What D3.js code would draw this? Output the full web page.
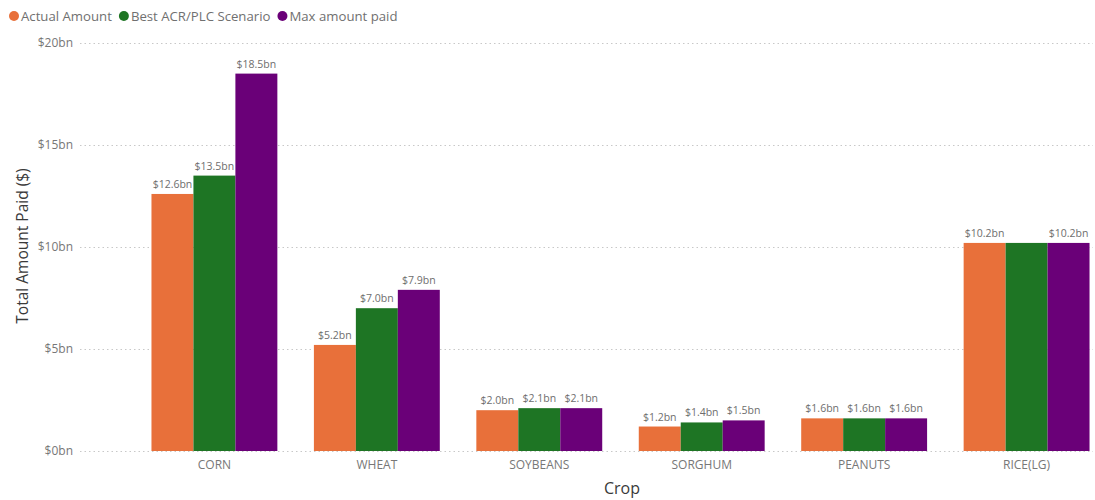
<!DOCTYPE html>
<html>
<head>
<meta charset="utf-8">
<script src="https://cdn.jsdelivr.net/npm/d3@7/dist/d3.min.js"></script>
<style>
  html, body { margin: 0; padding: 0; background: #ffffff; }
  svg { display: block; font-family: "Open Sans", "Noto Sans", sans-serif; }
</style>
</head>
<body>
<svg id="chart" width="1095" height="500"></svg>
<script>
// Crop categories and the three payment series (billions of dollars)
const crops = ["CORN", "WHEAT", "SOYBEANS", "SORGHUM", "PEANUTS", "RICE(LG)"];
const seriesNames = ["Actual Amount", "Best ACR/PLC Scenario", "Max amount paid"];
const actualAmount = [12.6, 5.2, 2.0, 1.2, 1.6, 10.2];
const bestScenario = [13.5, 7.0, 2.1, 1.4, 1.6, 10.2];
const maxPaid      = [18.5, 7.9, 2.1, 1.5, 1.6, 10.2];
const yTicks = [0, 5, 10, 15, 20];
const colors = ["#E8703A", "#1E7524", "#6A0078"];

const seriesValues = [actualAmount, bestScenario, maxPaid];
const rows = crops.map((c, i) => ({
  crop: c,
  values: seriesNames.map((s, k) => ({ series: s, k: k, value: seriesValues[k][i] }))
}));

const svg = d3.select("#chart");
const plotLeft = 80, plotRight = 1093, plotTop = 43, plotBottom = 451;

const x0 = d3.scaleBand()
  .domain(crops)
  .range([80, 1161])
  .paddingInner(0.225)
  .paddingOuter(0.44);

const x1 = d3.scaleBand()
  .domain(seriesNames)
  .range([0, x0.bandwidth()])
  .padding(0);

const y = d3.scaleLinear()
  .domain([0, 20])
  .range([plotBottom, plotTop]);

const fmt = v => "$" + d3.format(".1f")(v) + "bn";

// Dotted horizontal gridlines
svg.append("g")
  .selectAll("line")
  .data(yTicks)
  .join("line")
  .attr("x1", plotLeft)
  .attr("x2", plotRight)
  .attr("y1", d => y(d) + 0.5)
  .attr("y2", d => y(d) + 0.5)
  .attr("stroke", "#c8c8c8")
  .attr("stroke-width", 1)
  .attr("stroke-dasharray", "1.5,3");

// Y axis tick labels
const yAxis = d3.axisLeft(y)
  .tickValues(yTicks)
  .tickFormat(d => "$" + d + "bn")
  .tickSize(0)
  .tickPadding(0);
const yg = svg.append("g").attr("transform", "translate(73,0)").call(yAxis);
yg.select(".domain").remove();
yg.selectAll("text")
  .attr("fill", "#777777")
  .style("font-size", "12px")
  .style("font-family", "'Open Sans', sans-serif");

// X axis category labels
const xAxis = d3.axisBottom(x0).tickSize(0).tickPadding(0);
const xg = svg.append("g").attr("transform", "translate(0," + 460 + ")").call(xAxis);
xg.select(".domain").remove();
xg.selectAll("text")
  .attr("fill", "#777777")
  .style("font-size", "12px")
  .style("font-family", "'Open Sans', sans-serif");

// Grouped bars
const groups = svg.append("g")
  .selectAll("g")
  .data(rows)
  .join("g")
  .attr("transform", d => "translate(" + x0(d.crop) + ",0)");

groups.selectAll("rect")
  .data(d => d.values)
  .join("rect")
  .attr("x", d => x1(d.series))
  .attr("y", d => y(d.value))
  .attr("width", x1.bandwidth())
  .attr("height", d => y(0) - y(d.value))
  .attr("fill", d => colors[d.k]);

// Value labels above bars; a label that would collide with the
// previously shown label in its group is hidden
groups.each(function () {
  const g = d3.select(this);
  const labels = g.selectAll("text.val")
    .data(d => d.values)
    .join("text")
    .attr("class", "val")
    .attr("x", d => x1(d.series) + x1.bandwidth() / 2)
    .attr("y", d => y(d.value) - 6)
    .attr("text-anchor", "middle")
    .attr("fill", "#6e6e6e")
    .style("font-size", "10.5px")
    .style("font-family", "'Open Sans', sans-serif")
    .text(d => fmt(d.value));
  let prev = null;
  labels.each(function () {
    const b = this.getBBox();
    if (prev && b.x < prev.x + prev.width + 3 &&
        b.y < prev.y + prev.height && b.y + b.height > prev.y) {
      d3.select(this).remove();
    } else {
      prev = b;
    }
  });
});

// Axis titles
svg.append("text")
  .attr("transform", "translate(28," + 246 + ") rotate(-90)")
  .attr("text-anchor", "middle")
  .attr("fill", "#3a3a3a")
  .style("font-size", "15.5px")
  .style("font-family", "'Open Sans', sans-serif")
  .text("Total Amount Paid ($)");

svg.append("text")
  .attr("x", 622)
  .attr("y", 494)
  .attr("text-anchor", "middle")
  .attr("fill", "#3a3a3a")
  .style("font-size", "16px")
  .style("font-family", "'Open Sans', sans-serif")
  .text("Crop");

// Legend
const legend = svg.append("g").attr("transform", "translate(0,16)");
let lx = 14;
seriesNames.forEach((s, k) => {
  legend.append("circle")
    .attr("cx", lx)
    .attr("cy", 0)
    .attr("r", 5)
    .attr("fill", colors[k]);
  const t = legend.append("text")
    .attr("x", lx + 7)
    .attr("y", 4.5)
    .attr("fill", "#707070")
    .style("font-size", "13.2px")
    .style("font-family", "'Open Sans', sans-serif")
    .text(s);
  lx += 7 + t.node().getComputedTextLength() + 12;
});
</script>
</body>
</html>
